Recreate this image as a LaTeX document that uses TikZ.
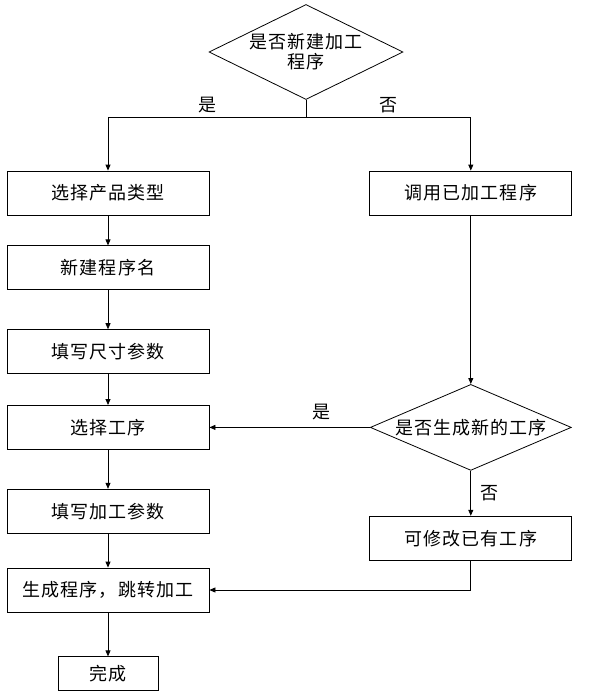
\documentclass[tikz,border=0pt]{standalone}
\usepackage{fontspec}
\newfontfamily\cjk[LetterSpace=6]{Noto Sans CJK SC}
\usetikzlibrary{positioning, shapes.geometric, arrows.meta}

\begin{document}
\begin{tikzpicture}[x=1pt, y=-1pt, line width=0.8pt, >={Triangle[length=6pt, width=5pt]},
  font=\cjk\fontsize{18}{20}\selectfont,
  box/.style={draw, minimum width=202pt, minimum height=44pt, inner sep=0pt},
  decide/.style={draw, diamond, inner sep=0pt, aspect=2}]
  \useasboundingbox (0,0) rectangle (593,696);
  \node[decide, minimum width=194pt, minimum height=95pt, align=center] (newprog) at (306,52) {是否新建加工\\程序};
  \node[box] (product) at (108,193) {选择产品类型};
  \node[box, below=30pt of product] (progname) {新建程序名};
  \node[box, below=39pt of progname] (size) {填写尺寸参数};
  \node[box, below=31pt of size] (process) {选择工序};
  \node[box, below=39pt of process] (param) {填写加工参数};
  \node[box, below=34pt of param] (generate) {生成程序，跳转加工};
  \node[draw, minimum width=100pt, minimum height=34pt, below=44pt of generate] (done) {完成};
  \node[box, right=160pt of product] (recall) {调用已加工程序};
  \node[decide, minimum width=201pt, minimum height=86pt, aspect=2.34] (newproc) at (recall |- process) {是否生成新的工序};
  \node[box, below=45pt of newproc] (modify) {可修改已有工序};

  \draw[->] (newprog.south) -- ++(0,17) -| node[pos=0.25, above]{是} (product.north);
  \draw[->] (newprog.south) -- ++(0,17) -| node[pos=0.25, above]{否} (recall.north);
  \draw[->] (product) -- (progname);
  \draw[->] (progname) -- (size);
  \draw[->] (size) -- (process);
  \draw[->] (process) -- (param);
  \draw[->] (param) -- (generate);
  \draw[->] (generate) -- (done);
  \draw[->] (recall) -- (newproc);
  \draw[->] (newproc) -- node[pos=0.3, above=4pt]{是} (process);
  \draw[->] (newproc) -- node[right=6pt]{否} (modify);
  \draw[->] (modify.south) |- (generate.east);
\end{tikzpicture}
\end{document}
